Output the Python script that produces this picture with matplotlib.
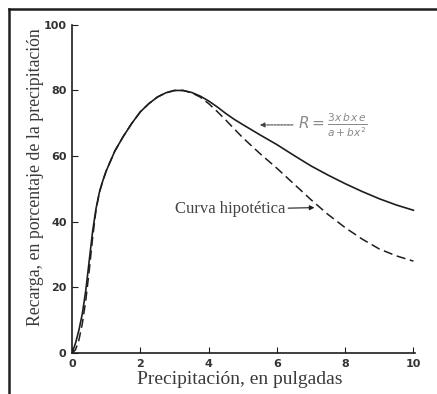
import matplotlib.pyplot as plt
from matplotlib.lines import Line2D

# curve values
x_solid = [0, 0.1, 0.2, 0.3, 0.4, 0.5, 0.6, 0.7, 0.8, 0.9, 1.0, 1.25, 1.5,
           1.75, 2.0, 2.25, 2.5, 2.75, 3.0, 3.25, 3.5, 3.75, 4.0, 4.25, 4.5,
           4.75, 5.0, 5.5, 6.0, 6.5, 7.0, 7.5, 8.0, 8.5, 9.0, 9.5, 10.0]
y_solid = [0, 3, 7, 12, 19, 28, 37, 44, 49, 52.5, 55.5, 61.5, 66,
           70, 73.5, 76, 78, 79.3, 80, 80, 79.4, 78.3, 76.8, 75, 73,
           71.2, 69.6, 66.5, 63.5, 60.2, 57, 54.2, 51.6, 49.2, 47, 45.1, 43.5]

x_dash = [0, 0.1, 0.2, 0.3, 0.4, 0.5, 0.6, 0.7, 0.8, 0.9, 1.0, 1.25, 1.5,
          1.75, 2.0, 2.25, 2.5, 2.75, 3.0, 3.25, 3.5, 3.75, 4.0, 4.25, 4.5,
          4.75, 5.0, 5.5, 6.0, 6.5, 7.0, 7.5, 8.0, 8.5, 9.0, 9.5, 10.0]
y_dash = [0, 1, 4, 9, 16, 25, 35, 43.5, 49, 52.5, 55.5, 61.5, 66,
          70, 73.5, 76, 78, 79.3, 80, 80, 79.3, 78, 76, 73.6, 71,
          68.3, 65.6, 60.8, 56.3, 51.5, 46.7, 42.2, 38.2, 34.7, 31.7, 29.6, 28]

x_ticks = [0, 2, 4, 6, 8, 10]
y_ticks = [0, 20, 40, 60, 80, 100]

ink = '#1e1e1e'
serif = ['Liberation Serif', 'DejaVu Serif']

fig = plt.figure(figsize=(4.37, 3.94), dpi=100)
ax = fig.add_axes([0.165, 0.104, 0.785, 0.833])

ax.plot(x_solid, y_solid, color=ink, lw=1.2)
ax.plot(x_dash, y_dash, color=ink, lw=1.1, dashes=(6, 3))

ax.set_xlim(0, 10.05)
ax.set_ylim(0, 100)
ax.set_xticks(x_ticks)
ax.set_yticks(y_ticks)
ax.tick_params(direction='in', length=4, width=0.8, colors=ink,
               labelsize=8, pad=4)
for lbl in ax.get_xticklabels() + ax.get_yticklabels():
    lbl.set_fontweight('bold')
    lbl.set_color('#333333')
for side in ['top', 'right']:
    ax.spines[side].set_visible(False)
for side in ['left', 'bottom']:
    ax.spines[side].set_color(ink)
    ax.spines[side].set_linewidth(1.2)

ax.set_xlabel('Precipitación, en pulgadas', family=serif, fontsize=14,
              color='#3a3a3a')
ax.xaxis.set_label_coords(0.49, -0.055)
ax.set_ylabel('Recarga, en porcentaje de la precipitación', family=serif,
              fontsize=12.8, color='#3a3a3a')
ax.yaxis.set_label_coords(-0.108, 0.535)
ax.yaxis.label.set_va('center')

# annotations
ax.annotate('Curva hipotética', xy=(7.1, 44.3), xytext=(6.25, 43.8),
            family=serif, fontsize=12, color='#444444', ha='right', va='center',
            arrowprops=dict(arrowstyle='-|>', color=ink, lw=0.8,
                            mutation_scale=7, shrinkA=0, shrinkB=0))
ax.annotate(r'$R = \frac{3x\,b\,x\,e}{a + bx^2}$', xy=(5.5, 69.5),
            xytext=(7.65, 69.5), fontsize=11, color='#8a8a8a', ha='center',
            va='center', family=serif,
            arrowprops=dict(arrowstyle='-|>', color='#444444', lw=0.8,
                            mutation_scale=7, shrinkA=2, shrinkB=0,
                            linestyle=(0, (2, 1))))

# outer frame of the scanned page
fig.add_artist(Line2D([9 / 437, 9 / 437], [0, 1 - 9 / 394],
                      transform=fig.transFigure, color=ink, lw=1.8))
fig.add_artist(Line2D([9 / 437, 1], [1 - 9 / 394, 1 - 9 / 394],
                      transform=fig.transFigure, color=ink, lw=1.8))

fig.savefig('out.png', dpi=100)
